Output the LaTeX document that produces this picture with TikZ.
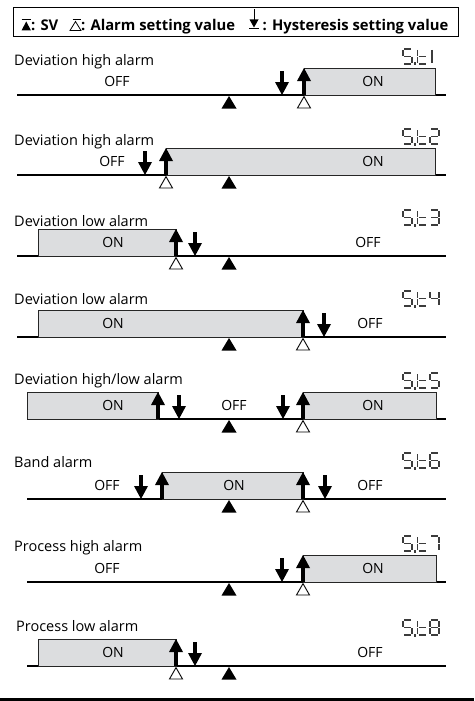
\documentclass[tikz,border=0pt]{standalone}
\usepackage{fontspec}
\setmainfont{Open Sans}
\definecolor{boxgray}{RGB}{220,221,223}
\definecolor{segcol}{RGB}{60,60,60}
\tikzset{
  baseln/.style={line width=1.9pt},
  onbox/.style={fill=boxgray, draw=black!85, line width=0.7pt},
  lbl/.style={font=\fontsize{14}{16}\selectfont, inner sep=0pt},
  ttl/.style={font=\fontsize{14.5}{16}\selectfont, inner sep=0pt, anchor=base west},
  hdr/.style={font=\bfseries\fontsize{14.8}{17}\selectfont, inner sep=0pt, anchor=base west},
  seg/.style={line width=1.1pt, draw=segcol},
}
% arrows and markers: #1 = x, #2 = baseline y
\newcommand\uparr[2]{%
  \fill ({#1-1.6},#2) rectangle ({#1+1.6},{#2-15});
  \fill ({#1-7},{#2-14}) -- ({#1+7},{#2-14}) -- (#1,{#2-27}) -- cycle;}
\newcommand\dnarr[2]{%
  \fill ({#1-1.6},{#2-24}) rectangle ({#1+1.6},{#2-12});
  \fill ({#1-7},{#2-13}) -- ({#1+7},{#2-13}) -- (#1,#2) -- cycle;}
\newcommand\svmark[2]{%
  \fill ({#1-7.5},{#2+13.5}) -- ({#1+7.5},{#2+13.5}) -- (#1,{#2+1}) -- cycle;}
\newcommand\almark[2]{%
  \draw[line width=0.9pt, fill=white] ({#1-6.5},{#2+13}) -- ({#1+6.5},{#2+13}) -- (#1,{#2+1.6}) -- cycle;}
% seven segment pieces
\newcommand\sgA{\draw[seg] (1,0)--(8,0);}
\newcommand\sgB{\draw[seg] (9,1)--(9,7);}
\newcommand\sgC{\draw[seg] (9,8)--(9,14);}
\newcommand\sgD{\draw[seg] (1,15)--(8,15);}
\newcommand\sgE{\draw[seg] (0,8)--(0,14);}
\newcommand\sgF{\draw[seg] (0,1)--(0,7);}
\newcommand\sgG{\draw[seg] (1,7.5)--(8,7.5);}
\newcommand\segchar[3]{\begin{scope}[shift={(#1,#2)}]#3\end{scope}}
\newcommand\stlabel[2]{%
  \segchar{403}{#1-46}{\sgA\sgF\sgG\sgC\sgD}
  \fill[segcol] (414,{#1-32.5}) rectangle (415.8,{#1-29.5});
  \segchar{417.5}{#1-46}{\sgF\sgE\sgG\sgD}
  \segchar{430}{#1-46}{#2}}
\begin{document}
\begin{tikzpicture}[x=1pt,y=-1pt]
\useasboundingbox (0,0) rectangle (474,701);
% ---------- header ----------
\draw[line width=0.8pt] (13,7) rectangle (458,36);
\draw[line width=1.3pt] (21.5,19.5) -- (31,19.5);
\fill (21.5,30.5) -- (31,30.5) -- (26.25,21.5) -- cycle;
\node[hdr] (h1) at (31,30.5) {: SV};
\begin{scope}[shift={(70,30.5)}]
  \draw[line width=0.8pt] (0,0) -- (11,0) -- (5.5,-9) -- cycle;
  \draw[line width=1pt] (2.5,-10.5) -- (11,-10.5);
\end{scope}
\node[hdr] (h2) at (81,30.5) {: Alarm setting value};
\begin{scope}[shift={(249,30.5)}]
  \draw[line width=0.8pt] (5,-21) -- (5,-10);
  \fill (0.5,-11) -- (9.5,-11) -- (5,-3) -- cycle;
  \draw[line width=1pt] (0,-1.5) -- (10,-1.5);
\end{scope}
\node[hdr] (h3) at (262.5,30.5) {: Hysteresis setting value};
% ---------- panel 1 ----------
\node[ttl] (t1) at (14,66) {Deviation high alarm};
\stlabel{95}{\draw[seg] (2,1)--(2,14);}
\draw[baseln] (17,95) -- (446,95);
\draw[onbox] (304,95) rectangle (435,68);
\node[lbl] (off1) at (117,81.5) {OFF};
\node[lbl] (on1) at (373,81.5) {ON};
\dnarr{282}{95}\uparr{304}{95}\svmark{229}{95}\almark{304}{95}
% ---------- panel 2 ----------
\node[ttl] (t2) at (14,145) {Deviation high alarm};
\stlabel{175}{\sgA\sgB\sgG\sgE\sgD}
\draw[baseln] (17,175) -- (446,175);
\draw[onbox] (166,175) rectangle (435,148);
\node[lbl] (off2) at (112,161.5) {OFF};
\node[lbl] (on2) at (373,161.5) {ON};
\dnarr{145}{175}\uparr{166}{175}\svmark{229}{175}\almark{166}{175}
% ---------- panel 3 ----------
\node[ttl] (t3) at (14,226) {Deviation low alarm};
\stlabel{256}{\sgA\sgB\sgG\sgC\sgD}
\draw[baseln] (17,256) -- (446,256);
\draw[onbox] (38,256) rectangle (176,229);
\node[lbl] (on3) at (113,242.5) {ON};
\node[lbl] (off3) at (368,242.5) {OFF};
\uparr{176}{256}\dnarr{195}{256}\svmark{229}{256}\almark{176}{256}
% ---------- panel 4 ----------
\node[ttl] (t4) at (14,304) {Deviation low alarm};
\stlabel{337}{\sgF\sgG\sgB\sgC}
\draw[baseln] (17,337) -- (446,337);
\draw[onbox] (38,337) rectangle (303,310);
\node[lbl] (on4) at (113,323.5) {ON};
\node[lbl] (off4) at (370,323.5) {OFF};
\uparr{303}{337}\dnarr{324}{337}\svmark{229}{337}\almark{303}{337}
% ---------- panel 5 ----------
\node[ttl] (t5) at (14,384) {Deviation high/low alarm};
\stlabel{419}{\sgA\sgF\sgG\sgC\sgD}
\draw[baseln] (27,419) -- (446,419);
\draw[onbox] (27,419) rectangle (158,392);
\draw[onbox] (303,419) rectangle (436,392);
\node[lbl] (on5a) at (113,405.5) {ON};
\node[lbl] (off5) at (234,405.5) {OFF};
\node[lbl] (on5b) at (373,405.5) {ON};
\uparr{158}{419}\dnarr{179}{419}\dnarr{283}{419}\uparr{303}{419}
\svmark{229}{419}\almark{303}{419}
% ---------- panel 6 ----------
\node[ttl] (t6) at (14,467) {Band alarm};
\stlabel{499}{\sgA\sgF\sgG\sgE\sgC\sgD}
\draw[baseln] (27,499) -- (446,499);
\draw[onbox] (162,499) rectangle (303,472);
\node[lbl] (off6a) at (107,485.5) {OFF};
\node[lbl] (on6) at (234,485.5) {ON};
\node[lbl] (off6b) at (370,485.5) {OFF};
\dnarr{141}{499}\uparr{162}{499}\uparr{303}{499}\dnarr{325}{499}
\svmark{229}{499}\almark{303}{499}
% ---------- panel 7 ----------
\node[ttl] (t7) at (14,551) {Process high alarm};
\stlabel{582}{\sgA\sgB\sgC}
\draw[baseln] (27,582) -- (446,582);
\draw[onbox] (303,582) rectangle (436,555);
\node[lbl] (off7) at (107,568.5) {OFF};
\node[lbl] (on7) at (373,568.5) {ON};
\dnarr{282}{582}\uparr{303}{582}\svmark{229}{582}\almark{303}{582}
% ---------- panel 8 ----------
\node[ttl] (t8) at (16,631) {Process low alarm};
\stlabel{666}{\sgA\sgB\sgC\sgD\sgE\sgF\sgG}
\draw[baseln] (27,666) -- (446,666);
\draw[onbox] (38,666) rectangle (176,639);
\node[lbl] (on8) at (113,652.5) {ON};
\node[lbl] (off8) at (370,652.5) {OFF};
\uparr{176}{666}\dnarr{195}{666}\svmark{229}{666}\almark{176}{666}
% ---------- bottom bar ----------
\fill (0,697.5) rectangle (474,701);
\end{tikzpicture}
\end{document}
